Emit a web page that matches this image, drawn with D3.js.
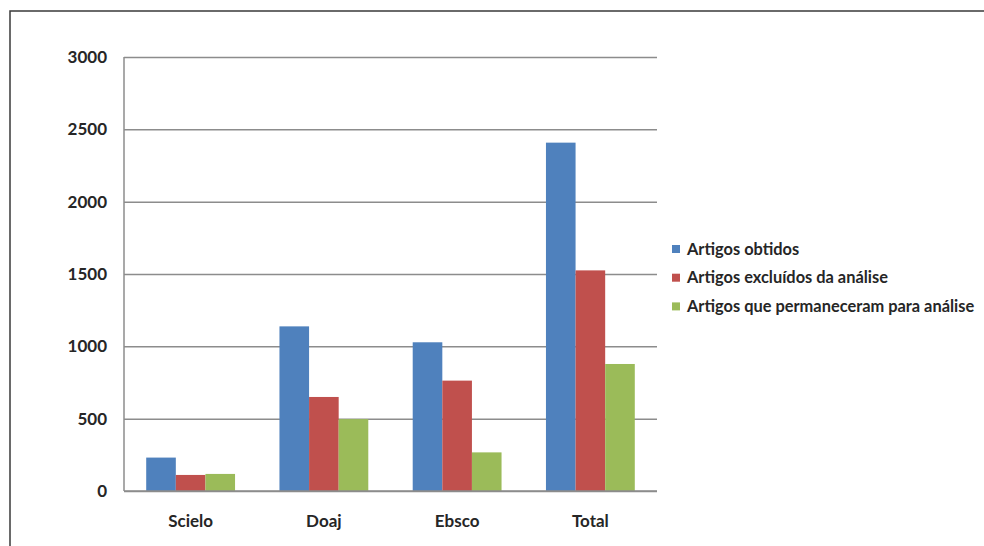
<!DOCTYPE html>
<html>
<head>
<meta charset="utf-8">
<script src="https://cdn.jsdelivr.net/npm/d3@7"></script>
<style>
  html, body { margin: 0; padding: 0; background: #fff; }
  svg { display: block; }
  text { font-family: Lato, "Open Sans", sans-serif; font-weight: bold; fill: #262626; }
</style>
</head>
<body>
<svg id="chart" width="984" height="546"></svg>
<script>
const categories = ["Scielo", "Doaj", "Ebsco", "Total"];
const seriesNames = ["Artigos obtidos", "Artigos excluídos da análise", "Artigos que permaneceram para análise"];
const obtidos = [231, 1138, 1028, 2408];
const excluidos = [111, 650, 763, 1525];
const permaneceram = [118, 497, 267, 878];
const yTicks = [0, 500, 1000, 1500, 2000, 2500, 3000];
const colors = ["#4F81BD", "#C0504D", "#9BBB59"];

const seriesValues = [obtidos, excluidos, permaneceram];
const data = categories.map((c, i) => ({
  cat: c,
  vals: seriesNames.map((s, j) => ({ series: s, idx: j, value: seriesValues[j][i] }))
}));

const svg = d3.select("#chart");
const plotLeft = 124, plotRight = 657, plotTop = 57, plotBottom = 491;

// outer frame
svg.append("rect").attr("x", 10).attr("y", 11).attr("width", 1000).attr("height", 600)
  .attr("fill", "none").attr("stroke", "#3a3a3a").attr("stroke-width", 1.5);

const y = d3.scaleLinear().domain([0, 3000]).range([plotBottom, plotTop]);
const x0 = d3.scaleBand().domain(categories).range([plotLeft, plotRight]).padding(0);
const bw = x0.bandwidth();
const gap = bw * 0.75 / 4.5;
const x1 = d3.scaleBand().domain(seriesNames).range([gap, bw - gap]).padding(0);

// gridlines via axis
const yAxis = d3.axisLeft(y).tickValues(yTicks).tickSize(-(plotRight - plotLeft)).tickFormat("").tickSizeOuter(0);
const gGrid = svg.append("g").attr("transform", `translate(${plotLeft},0)`).call(yAxis);
gGrid.select(".domain").remove();
gGrid.selectAll(".tick line").attr("stroke", "#8c8c8c").attr("stroke-width", 1.5);

// y labels
svg.append("g").selectAll("text").data(yTicks).join("text")
  .attr("x", 107).attr("y", d => y(d)).attr("dy", "0.36em")
  .attr("text-anchor", "end").attr("font-size", 17)
  .text(d => d);

// bars
const groups = svg.append("g").selectAll("g").data(data).join("g")
  .attr("transform", d => `translate(${x0(d.cat)},0)`);
groups.selectAll("rect").data(d => d.vals).join("rect")
  .attr("x", d => x1(d.series))
  .attr("y", d => y(d.value))
  .attr("width", x1.bandwidth())
  .attr("height", d => y(0) - y(d.value))
  .attr("fill", d => colors[d.idx]);

// axis lines
svg.append("line").attr("x1", plotLeft).attr("x2", plotLeft).attr("y1", plotTop).attr("y2", plotBottom)
  .attr("stroke", "#8c8c8c").attr("stroke-width", 1.5);
svg.append("line").attr("x1", plotLeft).attr("x2", plotRight).attr("y1", plotBottom).attr("y2", plotBottom)
  .attr("stroke", "#8c8c8c").attr("stroke-width", 1.5);

// x labels
const xAxis = d3.axisBottom(x0).tickSize(0).tickPadding(0);
const gx = svg.append("g").attr("transform", `translate(0,${plotBottom})`).call(xAxis);
gx.select(".domain").remove();
gx.selectAll(".tick text").attr("y", 36).attr("dy", 0)
  .style("font-family", "Lato, sans-serif").style("font-weight", "bold")
  .attr("font-size", 17).attr("fill", "#262626");

// legend
const legend = svg.append("g").selectAll("g").data(seriesNames).join("g")
  .attr("transform", (d, i) => `translate(672,${249 + i * 28.7})`);
legend.append("rect").attr("x", 0).attr("y", -4).attr("width", 8).attr("height", 8)
  .attr("fill", (d, i) => colors[i]);
legend.append("text").attr("x", 15).attr("y", 0).attr("dy", "0.35em")
  .attr("font-size", 16.4).text(d => d);
</script>
</body>
</html>
